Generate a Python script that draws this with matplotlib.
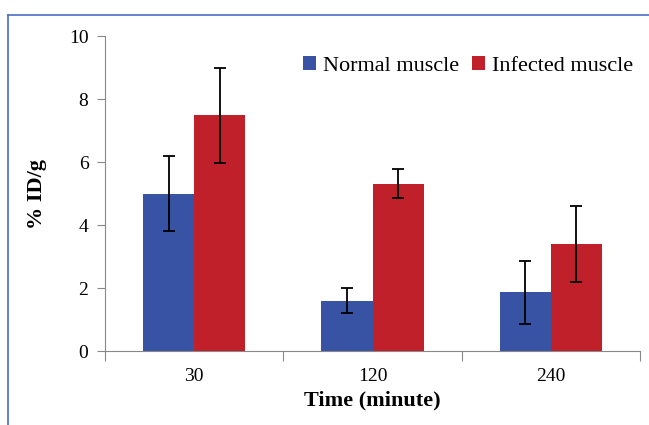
import matplotlib.pyplot as plt
import numpy as np
from matplotlib.lines import Line2D

times = ["30", "120", "240"]
normal = [5.0, 1.6, 1.87]
normal_err = [1.2, 0.4, 1.0]
infected = [7.48, 5.32, 3.4]
infected_err = [1.5, 0.45, 1.2]

plt.rcParams['font.family'] = ['Liberation Serif', 'DejaVu Serif']

fig = plt.figure(figsize=(6.49, 4.25), dpi=100)
ax = fig.add_axes([0.162, 0.174, 0.824, 0.741])

x = np.arange(len(times))
w = 0.287
ax.bar(x - w / 2, normal, w, color="#3953A4", label="Normal muscle",
       yerr=normal_err, capsize=4, error_kw=dict(elinewidth=1.3, capthick=1.3, ecolor="black"))
ax.bar(x + w / 2, infected, w, color="#C0202A", label="Infected muscle",
       yerr=infected_err, capsize=4, error_kw=dict(elinewidth=1.3, capthick=1.3, ecolor="black"))

ax.set_xlim(-0.5, 2.5)
ax.set_ylim(0, 10)
ax.set_yticks(range(0, 11, 2))
ax.set_xticks([-0.5, 0.5, 1.5, 2.5])
ax.set_xticklabels([])
ax.set_xticks(x, minor=True)
ax.set_xticklabels(times, minor=True)
ax.tick_params(axis="x", which="minor", length=0, pad=12, labelsize=14)
ax.tick_params(axis="x", which="major", length=7, color="#888888")
ax.tick_params(axis="y", length=6, color="#888888", labelsize=14, pad=6)

for s in ["top", "right"]:
    ax.spines[s].set_visible(False)
for s in ["left", "bottom"]:
    ax.spines[s].set_color("#888888")

ax.set_ylabel("% ID/g", fontsize=16, fontweight="bold", labelpad=16)
ax.set_xlabel("Time (minute)", fontsize=16, fontweight="bold", labelpad=4)

ax.legend(loc="upper right", bbox_to_anchor=(1.025, 1.0), ncol=2, frameon=False,
          fontsize=16, handlelength=0.6, handleheight=0.6, handletextpad=0.3,
          columnspacing=0.6)

fig.add_artist(Line2D([8 / 649, 1], [1 - 15 / 425, 1 - 15 / 425], color="#4A6FC0", lw=1.2))
fig.add_artist(Line2D([8 / 649, 8 / 649], [0, 1 - 15 / 425], color="#4A6FC0", lw=1.2))

fig.savefig("out.png", dpi=100)
